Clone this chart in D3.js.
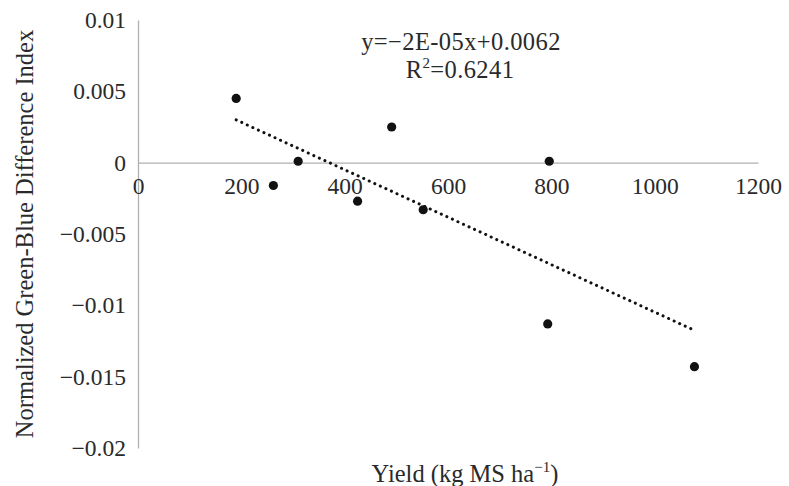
<!DOCTYPE html>
<html>
<head>
<meta charset="utf-8">
<script src="https://cdn.jsdelivr.net/npm/d3@7"></script>
</head>
<body style="margin:0">
<svg id="chart" width="789" height="486" font-family="Liberation Serif"></svg>
<script>
// yield (kg MS ha-1) and index values
var yieldValues = [190, 310, 262, 425, 491, 552, 796, 793, 1077];
var ngbdiValues = [0.0045, 0.0001, -0.0016, -0.0027, 0.0025, -0.0033, 0.0001, -0.0113, -0.0143];
var xTicks = [0, 200, 400, 600, 800, 1000, 1200];
var yTicks = [0.01, 0.005, 0, -0.005, -0.01, -0.015, -0.02];
var equationText = "y=\u22122E-05x+0.0062";
var r2Value = "0.6241";

var width = 789, height = 486;
var textColor = "#2a2a2a";
var margin = { top: 20, right: 31, bottom: 38, left: 138 },
    chartWidth = width - margin.left - margin.right,
    chartHeight = height - margin.top - margin.bottom;

var svg = d3.select("#chart");

var g = svg.append("g")
    .attr("transform", "translate(" + margin.left + "," + margin.top + ")");

var xScale = d3.scaleLinear().domain([0, 1200]).range([0, chartWidth]);
var yScale = d3.scaleLinear().domain([-0.02, 0.01]).range([chartHeight, 0]);

function fmt(d) {
    return String(+d.toFixed(3)).replace("-", "\u2212");
}

// y axis
var yAxis = g.append("g")
    .call(d3.axisLeft(yScale).tickValues(yTicks).tickSize(0).tickPadding(12).tickFormat(fmt))
    .attr("font-family", "Liberation Serif")
    .attr("font-size", 23.5);
yAxis.select(".domain").attr("stroke", "#b0b0b0").attr("stroke-width", 1.3);
yAxis.selectAll("text").attr("fill", textColor);

// x axis sits on y = 0
var xAxis = g.append("g")
    .attr("transform", "translate(0," + yScale(0) + ")")
    .call(d3.axisBottom(xScale).tickValues(xTicks).tickSize(0).tickPadding(15).tickFormat(d3.format("d")))
    .attr("font-family", "Liberation Serif")
    .attr("font-size", 23.5);
xAxis.select(".domain").attr("stroke", "#b0b0b0").attr("stroke-width", 1.3);
xAxis.selectAll("text").attr("fill", textColor);

// least squares trend line
var mx = d3.mean(yieldValues), my = d3.mean(ngbdiValues);
var sxy = 0, sxx = 0;
for (var i = 0; i < yieldValues.length; i++) {
    sxy += (yieldValues[i] - mx) * (ngbdiValues[i] - my);
    sxx += (yieldValues[i] - mx) * (yieldValues[i] - mx);
}
var slope = sxy / sxx, intercept = my - slope * mx;
var trend = d3.extent(yieldValues).map(function (x) { return [x, slope * x + intercept]; });

g.append("path")
    .datum(trend)
    .attr("fill", "none")
    .attr("stroke", "#111")
    .attr("stroke-width", 3)
    .attr("stroke-linecap", "round")
    .attr("stroke-dasharray", "0.1,6")
    .attr("d", d3.line()
        .x(function (d) { return xScale(d[0]); })
        .y(function (d) { return yScale(d[1]); }));

// points
g.selectAll("circle.pt")
    .data(yieldValues)
    .enter()
    .append("circle")
    .attr("class", "pt")
    .attr("cx", function (d) { return xScale(d); })
    .attr("cy", function (d, i) { return yScale(ngbdiValues[i]); })
    .attr("r", 4.6)
    .attr("fill", "#111");

// equation
svg.append("text")
    .attr("x", 461)
    .attr("y", 50)
    .attr("text-anchor", "middle")
    .attr("fill", textColor)
    .attr("font-family", "Liberation Serif")
    .attr("font-size", 24.5)
    .attr("letter-spacing", 0.4)
    .text(equationText);

var r2 = svg.append("text")
    .attr("x", 460)
    .attr("y", 78)
    .attr("text-anchor", "middle")
    .attr("fill", textColor)
    .attr("font-family", "Liberation Serif")
    .attr("font-size", 24.5)
    .attr("letter-spacing", 0.4);
r2.append("tspan").text("R");
r2.append("tspan").attr("dy", -10).attr("font-size", 15).text("2");
r2.append("tspan").attr("dy", 10).text("=" + r2Value);

// axis titles
var xt = svg.append("text")
    .attr("x", 465)
    .attr("y", 482)
    .attr("text-anchor", "middle")
    .attr("fill", textColor)
    .attr("font-family", "Liberation Serif")
    .attr("font-size", 24.5);
xt.append("tspan").text("Yield (kg MS ha");
xt.append("tspan").attr("dy", -10).attr("font-size", 15).text("\u22121");
xt.append("tspan").attr("dy", 10).text(")");

svg.append("text")
    .attr("transform", "translate(33,234) rotate(-90)")
    .attr("text-anchor", "middle")
    .attr("fill", textColor)
    .attr("font-family", "Liberation Serif")
    .attr("font-size", 24.5)
    .text("Normalized Green-Blue Difference Index");
</script>
</body>
</html>
